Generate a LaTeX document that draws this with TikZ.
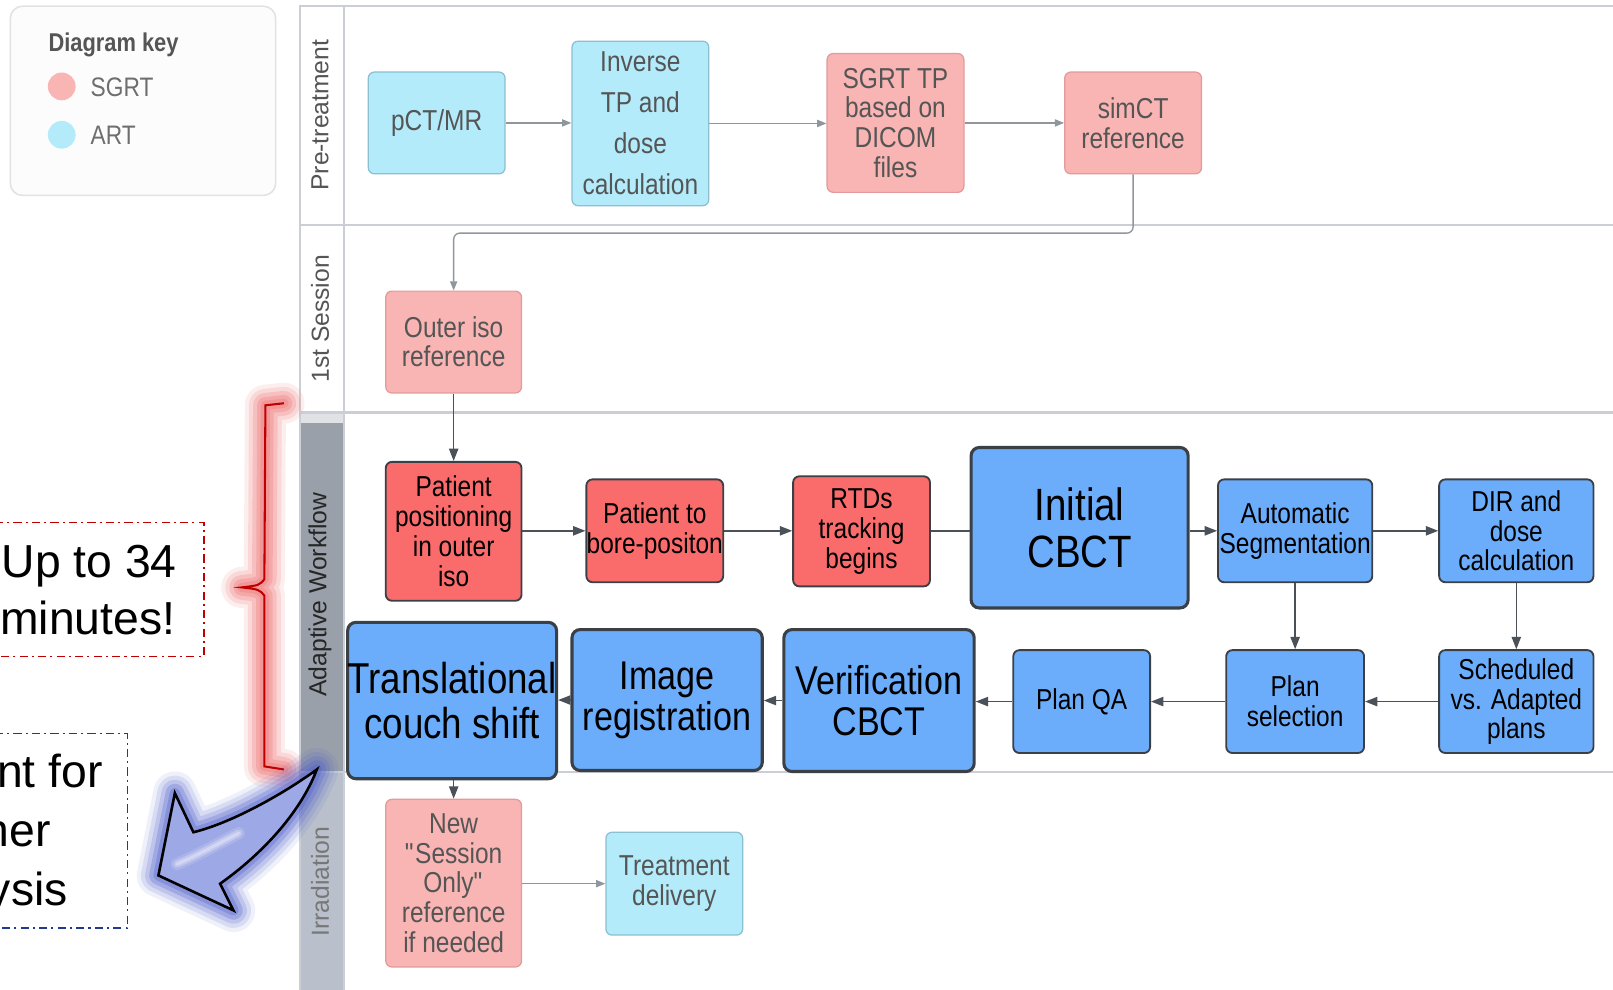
\documentclass[tikz,border=0pt]{standalone}
\usepackage{fontspec}
\setmainfont{Liberation Sans}[FakeStretch=0.85]
\newfontfamily\plainsans{Liberation Sans}
\usetikzlibrary{arrows.meta}
\definecolor{cyanL}{HTML}{B3EBFA}
\definecolor{cyanB}{HTML}{8CBFD0}
\definecolor{pinkL}{HTML}{F9B4B4}
\definecolor{pinkB}{HTML}{E39A9A}
\definecolor{redV}{HTML}{FA6B6B}
\definecolor{blueV}{HTML}{6BADFB}
\definecolor{boxB}{HTML}{3B4047}
\definecolor{laneL}{HTML}{CBCFD5}
\definecolor{fadeT}{HTML}{555555}
\definecolor{arrG}{HTML}{8F969E}
\definecolor{arrD}{HTML}{4B5159}
\definecolor{annRed}{HTML}{C00000}
\definecolor{annBlue}{HTML}{1F3A8F}
\definecolor{glowRed}{HTML}{F07878}
\definecolor{glowBlue}{HTML}{4A5CCB}
\definecolor{arrowFill}{HTML}{9DA8E6}
\definecolor{adaptG}{HTML}{9AA0A9}
\definecolor{irrG}{HTML}{B9C0CB}
\definecolor{legendF}{HTML}{FCFCFC}
\definecolor{legendB}{HTML}{E2E2E2}
\newcommand{\bluearrowpath}{(308,748) .. controls (275,772) and (225,800) .. (188,809) -- (170,771) -- (154,851) -- (227,885) -- (214,859) .. controls (255,830) and (292,790) .. cycle}
\newcommand{\redbracepath}{(276,392) -- (258,394) -- (257,563) .. controls (252,569) .. (235,571) .. controls (252,573) .. (257,579) -- (257,745) -- (276,748)}
\begin{document}
\begin{tikzpicture}[x=1pt,y=-1pt,
  boxbase/.style={rounded corners=6pt, align=center, inner sep=0pt, font=\fontsize{28}{29}\selectfont},
  fcyan/.style={boxbase, fill=cyanL, draw=cyanB, line width=1.2pt, text=fadeT},
  fpink/.style={boxbase, fill=pinkL, draw=pinkB, line width=1.2pt, text=fadeT},
  vred/.style={boxbase, fill=redV, draw=boxB, line width=1.8pt, text=black},
  vblue/.style={boxbase, fill=blueV, draw=boxB, line width=1.8pt, text=black},
  bigblue/.style={vblue, line width=3pt, rounded corners=8pt},
  farrow/.style={draw=arrG, line width=1.3pt, -{Triangle[length=9pt,width=7pt]}},
  darrow/.style={draw=arrD, line width=1.5pt, -{Triangle[length=12pt,width=9pt]}},
  dline/.style={draw=arrD, line width=1.5pt},
  lane/.style={draw=laneL, line width=2pt},
  lanelabel/.style={rotate=90, inner sep=0pt, font=\plainsans\fontsize{24}{24}\selectfont},
  anntext/.style={anchor=base west, inner sep=0pt, font=\plainsans\fontsize{45}{56}\selectfont},
  annbox/.style={line width=1.6pt, dash pattern=on 8pt off 4pt on 2pt off 4pt},
]
\useasboundingbox (0,0) rectangle (1568,962);
\fill[white] (0,0) rectangle (1568,962);

% ---------- legend ----------
\draw[rounded corners=12pt, fill=legendF, draw=legendB, line width=1.5pt] (10,6) rectangle (268,190);
\node[anchor=west, inner sep=0pt, text=fadeT, font=\bfseries\fontsize{25}{25}\selectfont] (keytitle) at (47,44) {Diagram key};
\fill[pinkL] (60,84) circle (13.5);
\fill[cyanL] (60,131) circle (13.5);
\node[anchor=west, inner sep=0pt, text=fadeT!85, font=\fontsize{26}{26}\selectfont] (keysgrt) at (88,85) {SGRT};
\node[anchor=west, inner sep=0pt, text=fadeT!85, font=\fontsize{26}{26}\selectfont] (keyart) at (88,132) {ART};

% ---------- lanes ----------
\fill[white] (292,6) rectangle (334,401);
\fill[laneL!60] (292,401) rectangle (334,411);
\fill[adaptG] (292,411) rectangle (334,750);
\fill[irrG] (292,750) rectangle (334,962);
\draw[lane] (292,962) -- (292,6) -- (1568,6);
\draw[lane] (334,6) -- (334,962);
\draw[lane] (292,219) -- (1568,219);
\draw[lane] (292,401) -- (1568,401);
\draw[lane] (292,750) -- (1568,750);
\node[lanelabel, text=fadeT] (lpre) at (311,112) {Pre-treatment};
\node[lanelabel, text=fadeT] (lfirst) at (311,310) {1st Session};
\node[lanelabel, text=black!85] (ladapt) at (311,578) {Adaptive Workflow};
\node[lanelabel, text=fadeT!80] (lirr) at (311,857) {Irradiation};

% ---------- annotations ----------
\foreach \w/\o in {40/0.12, 32/0.18, 24/0.25, 16/0.32, 9/0.35}{
  \draw[glowRed, line width=\w pt, opacity=\o, line join=round, line cap=round] \redbracepath;
}
\draw[annRed, line width=2pt] \redbracepath;

\draw[annRed, annbox] (-5,508) -- (198,508) -- (198,638) -- (-5,638);
\node[anntext] (upto1) at (1.5,561) {Up to 34};
\node[anntext] (upto2) at (0,617) {minutes!};

\draw[annBlue, annbox] (-5,713) -- (124,713) -- (124,902) -- (-5,902);
\node[anntext] (imp1) at (-3,766) {nt for};
\node[anntext] (imp2) at (-16,823) {her};
\node[anntext] (imp3) at (-12,880) {ysis};

\foreach \w/\o in {42/0.09, 34/0.13, 26/0.18, 18/0.25, 10/0.3}{
  \draw[glowBlue, line width=\w pt, opacity=\o, line join=round] \bluearrowpath;
}
\fill[arrowFill] \bluearrowpath;
\foreach \w/\o in {12/0.15, 7/0.25, 3/0.3}{
  \draw[white, line width=\w pt, opacity=\o, line cap=round] (172,840) .. controls (195,830) and (212,820) .. (232,810);
}
\draw[black, line width=2.5pt, line join=miter] \bluearrowpath;

% ---------- Pre-treatment ----------
\node[fcyan, minimum width=133pt, minimum height=99pt] (pct) at (424.5,119.5) {pCT/MR};
\node[fcyan, minimum width=133pt, minimum height=160pt, font=\fontsize{28}{40}\selectfont] (inv) at (622.5,120) {Inverse\\TP and\\dose\\calculation};
\node[fpink, minimum width=133pt, minimum height=135pt] (sgrt) at (870.5,119.5) {SGRT TP\\based on\\DICOM\\files};
\node[fpink, minimum width=133pt, minimum height=99pt] (simct) at (1101.5,119.5) {simCT\\reference};

% ---------- 1st session ----------
\node[fpink, minimum width=132pt, minimum height=99pt, font=\fontsize{28}{28}\selectfont] (outer) at (441,332.5) {Outer iso\\reference};

% ---------- Adaptive ----------
\node[vred, minimum width=132pt, minimum height=135pt] (ppos) at (441,516.5) {Patient\\positioning\\in outer\\iso};
\node[vred, minimum width=133pt, minimum height=100pt] (bore) at (636.5,516) {Patient to\\bore-positon};
\node[vred, minimum width=133pt, minimum height=107pt] (rtds) at (837.5,516.5) {RTDs\\tracking\\begins};
\node[bigblue, minimum width=211pt, minimum height=156pt, font=\fontsize{44}{45}\selectfont] (icbct) at (1049.5,513) {Initial\\CBCT};
\node[vblue, minimum width=150pt, minimum height=100pt] (auto) at (1259,516) {Automatic\\Segmentation};
\node[vblue, minimum width=150pt, minimum height=100pt] (dir) at (1474,516) {DIR and\\dose\\calculation};
\node[vblue, minimum width=150pt, minimum height=100pt] (sched) at (1474,682) {Scheduled\\vs. Adapted\\plans};
\node[vblue, minimum width=134pt, minimum height=100pt] (plansel) at (1259,682) {Plan\\selection};
\node[vblue, minimum width=133pt, minimum height=100pt] (planqa) at (1051.5,682) {Plan QA};
\node[bigblue, minimum width=185pt, minimum height=138pt, font=\fontsize{39}{40}\selectfont] (verif) at (854.5,681) {Verification\\CBCT};
\node[bigblue, minimum width=185pt, minimum height=137pt, font=\fontsize{39}{40}\selectfont] (imreg) at (648.5,680.5) {Image\\registration};
\node[bigblue, minimum width=203pt, minimum height=152pt, font=\fontsize{42}{43}\selectfont] (trans) at (439.5,681) {Translational\\couch shift};

% ---------- Irradiation ----------
\node[fpink, minimum width=132pt, minimum height=163pt] (newsess) at (441,858.5) {New\\\textquotedbl Session\\Only\textquotedbl\\reference\\if needed};
\node[fcyan, minimum width=133pt, minimum height=100pt] (treat) at (655.5,859) {Treatment\\delivery};

% ---------- connectors ----------
\draw[farrow] (pct.east) -- (inv.west |- pct.east);
\draw[farrow] (inv.east) -- (sgrt.west |- inv.east);
\draw[farrow] (sgrt.east |- simct.west) -- (simct.west);
\draw[farrow, rounded corners=6pt] (simct.south) -- ++(0,57) -| (outer.north);
\draw[darrow] (outer.south) -- (ppos.north);
\draw[darrow] (ppos.east |- bore.west) -- (bore.west);
\draw[darrow] (bore.east) -- (rtds.west |- bore.east);
\draw[dline] (rtds.east |- bore.east) -- (icbct.west |- bore.east);
\draw[darrow] (icbct.east |- auto.west) -- (auto.west);
\draw[darrow] (auto.east) -- (dir.west);
\draw[darrow] (auto.south) -- (plansel.north);
\draw[darrow] (dir.south) -- (sched.north);
\draw[darrow] (sched.west) -- (plansel.east);
\draw[darrow] (plansel.west) -- (planqa.east);
\draw[darrow] (planqa.west) -- (verif.east |- planqa.west);
\draw[darrow] (verif.west) -- (imreg.east |- verif.west);
\draw[darrow] (imreg.west) -- (trans.east |- imreg.west);
\draw[darrow] (newsess.north |- trans.south) -- (newsess.north);
\draw[farrow] (newsess.east |- treat.west) -- (treat.west);
\end{tikzpicture}
\end{document}
